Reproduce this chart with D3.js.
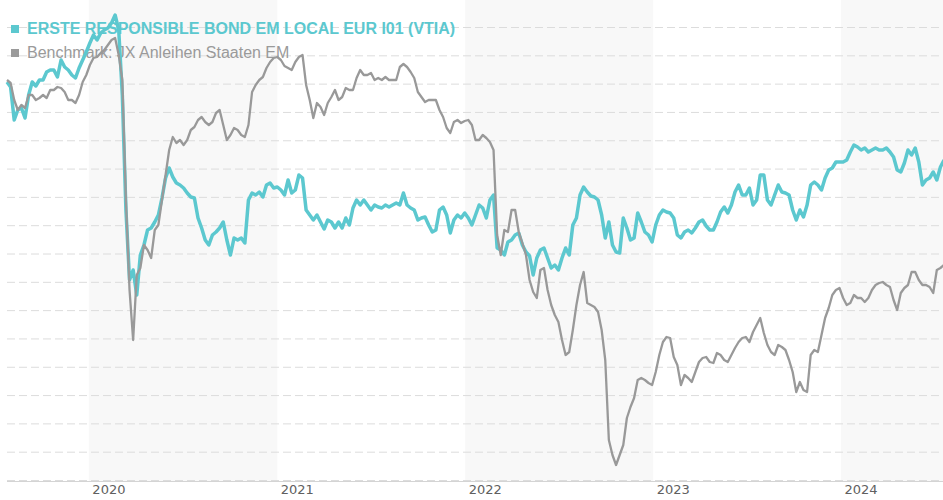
<!DOCTYPE html>
<html>
<head>
<meta charset="utf-8">
<script src="https://cdn.jsdelivr.net/npm/d3@7"></script>
<style>
  body { margin: 0; background: #fff; }
  svg { display: block; }
</style>
</head>
<body>
<script>
// ----------------------------------------
//  Data (weekly closes, indexed units)
// ----------------------------------------

var firstWeek = "2019-07-26";
var lastDay = "2024-07-17";
var shadedYears = [2020, 2022, 2024];
var tickYears = [2020, 2021, 2022, 2023, 2024];

var fundName = "ERSTE RESPONSIBLE BOND EM LOCAL EUR I01 (VTIA)";
var benchName = "Benchmark: JX Anleihen Staaten EM";

var fund = [
  398,393,360,370,372,362,385,398,394,400,
  400,408,410,410,403,420,413,410,405,402,
  412,420,428,437,445,440,447,450,452,457,
  465,450,385,270,200,210,185,225,235,250,
  252,258,265,282,302,312,303,297,295,292,
  287,283,282,262,252,240,235,245,248,252,
  258,240,225,242,240,242,237,280,287,285,
  288,283,295,297,292,293,290,285,300,287,
  290,305,302,270,265,260,265,258,251,260,
  258,252,258,252,262,255,272,280,275,280,
  275,270,275,273,272,275,273,275,277,275,
  287,275,272,270,260,262,263,255,248,250,
  270,273,265,247,260,265,262,267,262,255,
  265,275,272,262,280,285,232,230,225,238,
  240,245,247,235,228,224,205,222,230,232,
  222,212,215,210,222,232,225,255,262,285,
  293,288,284,283,280,265,242,258,235,228,
  227,262,252,240,242,267,258,248,245,238,
  255,265,270,268,267,262,245,242,248,250,
  247,252,258,260,254,250,250,258,268,273,
  267,275,288,295,285,285,292,275,280,305,
  305,280,275,285,295,288,287,285,270,260,
  270,263,275,295,298,295,290,302,310,312,
  318,318,318,320,328,335,333,330,332,328,
  330,332,330,330,332,328,323,310,308,317,
  330,325,332,318,295,300,302,308,300,313,
  320
];

var bench = [
  400,397,380,370,375,372,385,385,380,382,
  385,382,390,390,393,392,388,380,380,377,
  385,398,405,415,422,423,427,430,435,440,
  442,425,400,280,190,140,205,212,235,230,
  222,250,255,280,305,330,343,337,340,335,
  340,350,353,360,363,358,355,358,367,370,
  355,340,345,352,350,345,343,355,388,395,
  400,403,412,418,422,423,420,414,412,410,
  418,423,425,395,380,362,377,373,365,377,
  383,390,380,383,392,390,390,402,410,405,
  405,407,400,402,400,403,400,400,400,413,
  416,413,408,402,388,383,378,380,380,380,
  370,363,352,347,358,360,357,359,360,355,
  340,340,345,342,338,330,245,225,250,248,
  270,270,248,237,225,200,188,182,210,212,
  190,175,165,158,140,125,128,150,175,195,
  208,177,175,173,168,150,120,40,25,15,
  25,35,62,73,82,100,102,100,97,95,
  108,125,138,143,142,123,115,95,105,102,
  98,108,118,122,123,118,117,127,125,120,
  118,125,132,138,142,143,138,148,155,162,
  147,135,128,125,135,133,130,120,108,88,
  98,90,88,125,130,128,145,162,172,185,
  190,192,182,175,177,185,182,182,178,182,
  190,195,197,198,195,193,180,170,187,192,
  195,208,208,200,195,195,193,187,210,212,
  215
];

// ----------------------------------------
//  Sizes and scales
// ----------------------------------------

var width = 943, height = 500;
var plot = {left: 7, right: 943, top: 27, bottom: 480};
var parse = d3.timeParse("%Y-%m-%d");

var x = d3.scaleTime()
  .domain([parse(firstWeek), parse(lastDay)])
  .range([plot.left, plot.right]);

var y = d3.scaleLinear()
  .domain([0, 453])
  .range([plot.bottom, plot.top]);

function toPoints(values) {
  return values.map(function(v, i) {
    return {date: d3.timeDay.offset(parse(firstWeek), i * 7), value: v};
  });
}

var svg = d3.select("body").append("svg")
  .attr("width", width)
  .attr("height", height);

// ----------------------------------------
//  Year bands, grid, axis
// ----------------------------------------

svg.selectAll(".band")
  .data(shadedYears)
  .enter()
  .append("rect")
  .attr("class", "band")
  .attr("x", function(d) { return x(new Date(d, 0, 1)); })
  .attr("y", 0)
  .attr("width", function(d) {
    var end = d3.min([new Date(d + 1, 0, 1), parse(lastDay)]);
    return x(end) - x(new Date(d, 0, 1));
  })
  .attr("height", plot.bottom + 2)
  .attr("fill", "#f8f8f8");

svg.append("g")
  .attr("transform", "translate(" + plot.left + ",0)")
  .call(d3.axisLeft(y)
    .tickValues(d3.range(17).map(function(i) { return i * 453 / 16; }))
    .tickSize(-(plot.right - plot.left))
    .tickFormat(""))
  .call(function(g) {
    g.select(".domain").remove();
    g.selectAll(".tick line")
      .attr("stroke", "#dcdcdc")
      .attr("stroke-dasharray", "8,4");
  });

svg.append("g")
  .attr("transform", "translate(0," + (plot.bottom + 1.5) + ")")
  .call(d3.axisBottom(x)
    .tickValues(tickYears.map(function(d) { return new Date(d, 0, 1); }))
    .tickSize(0)
    .tickFormat(d3.timeFormat("%Y")))
  .call(function(g) {
    g.select(".domain")
      .attr("stroke", "#d4d4d4")
      .attr("d", "M" + plot.left + ",0H" + plot.right);
    g.selectAll(".tick text")
      .attr("text-anchor", "start")
      .attr("x", 3)
      .attr("y", 3)
      .attr("dy", "0.71em")
      .attr("fill", "#606060")
      .style("font-family", "'DejaVu Sans', Verdana, sans-serif")
      .style("font-size", "13px");
  });

// ----------------------------------------
//  Legend (sits under the lines)
// ----------------------------------------

var legend = [
  {name: fundName, color: "#5cc8cf", weight: "bold"},
  {name: benchName, color: "#9a9a9a", weight: "normal"}
];

var lg = svg.selectAll(".legend")
  .data(legend)
  .enter()
  .append("g")
  .attr("class", "legend")
  .attr("transform", function(d, i) { return "translate(0," + (i * 24) + ")"; });

lg.append("rect")
  .attr("x", 11).attr("y", 25)
  .attr("width", 8).attr("height", 8)
  .attr("fill", function(d) { return d.color; });

lg.append("text")
  .attr("x", 27).attr("y", 34)
  .attr("fill", function(d) { return d.color; })
  .style("font-family", "'Liberation Sans', Arial, sans-serif")
  .style("font-size", "16px")
  .style("font-weight", function(d) { return d.weight; })
  .text(function(d) { return d.name; });

// ----------------------------------------
//  Lines
// ----------------------------------------

var line = d3.line()
  .x(function(d) { return x(d.date); })
  .y(function(d) { return y(d.value); });

svg.append("path")
  .datum(toPoints(fund))
  .attr("fill", "none")
  .attr("stroke", "#5cc8cf")
  .attr("stroke-width", 3.5)
  .attr("stroke-linejoin", "round")
  .attr("d", line);

svg.append("path")
  .datum(toPoints(bench))
  .attr("fill", "none")
  .attr("stroke", "#999")
  .attr("stroke-width", 2.3)
  .attr("stroke-linejoin", "round")
  .attr("d", line);
</script>
</body>
</html>
